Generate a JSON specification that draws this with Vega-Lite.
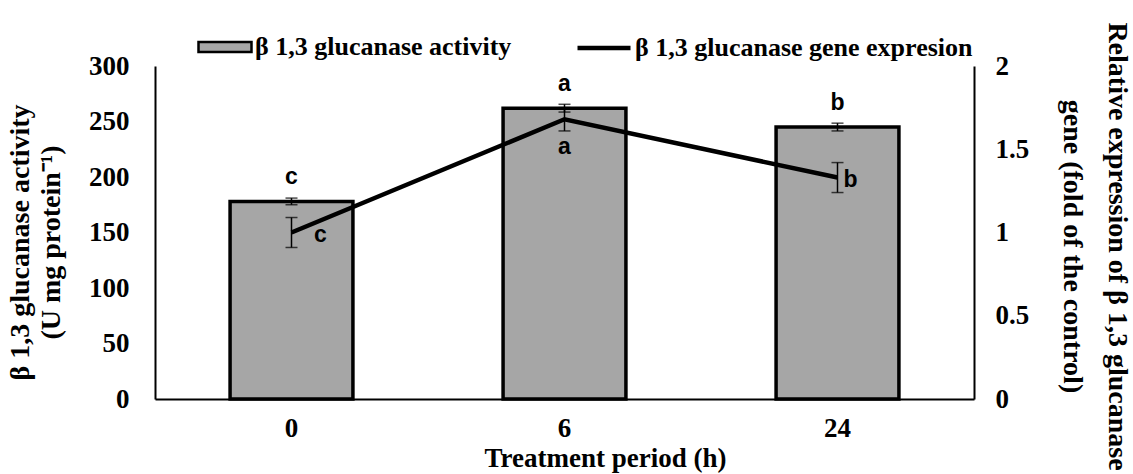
{
  "$schema": "https://vega.github.io/schema/vega-lite/v6.json",
  "width": 819,
  "height": 333,
  "autosize": {"type": "none"},
  "padding": {"left": 155, "top": 66, "right": 159, "bottom": 75},
  "background": "white",
  "config": {
    "view": {"stroke": null},
    "font": "Liberation Serif",
    "axis": {
      "grid": false,
      "ticks": false,
      "domainColor": "black",
      "domainWidth": 2,
      "labelColor": "black",
      "titleColor": "black",
      "labelFont": "Liberation Serif",
      "titleFont": "Liberation Serif",
      "labelFontSize": 27,
      "titleFontSize": 27,
      "labelFontWeight": "bold",
      "titleFontWeight": "bold"
    }
  },
  "data": {
    "values": [
      {"period": "0", "activity": 178, "activityErr": 3, "expression": 1.0, "expressionErr": 0.09, "activityGroup": "c", "expressionGroup": "c"},
      {"period": "6", "activity": 262, "activityErr": 3.5, "expression": 1.68, "expressionErr": 0.07, "activityGroup": "a", "expressionGroup": "a"},
      {"period": "24", "activity": 245, "activityErr": 3.5, "expression": 1.33, "expressionErr": 0.09, "activityGroup": "b", "expressionGroup": "b"}
    ]
  },
  "encoding": {
    "x": {
      "field": "period",
      "type": "ordinal",
      "sort": ["0", "6", "24"],
      "scale": {"paddingInner": 0.55, "paddingOuter": 0.275},
      "axis": {
        "title": "Treatment period (h)",
        "labelAngle": 0,
        "labelPadding": 16,
        "titleX": 450,
        "titleY": 67,
        "titleAlign": "center",
        "titleBaseline": "alphabetic"
      }
    }
  },
  "layer": [
    {
      "encoding": {
        "y": {
          "field": "activity",
          "type": "quantitative",
          "scale": {"domain": [0, 300]},
          "axis": {
            "values": [0, 50, 100, 150, 200, 250, 300],
            "labelPadding": 26,
            "title": ["β 1,3 glucanase activity", "(U mg protein⁻¹)"],
            "titleFontSize": 28,
            "titleAngle": 270,
            "titleX": -135,
            "titleY": 176,
            "titleAlign": "center",
            "titleBaseline": "middle",
            "titleLineHeight": 31
          }
        }
      },
      "layer": [
        {
          "mark": {"type": "bar", "stroke": "black", "strokeWidth": 3.5},
          "encoding": {
            "fill": {
              "datum": "β 1,3 glucanase activity",
              "type": "nominal",
              "scale": {"range": ["#a6a6a6"]},
              "legend": {
                "orient": "none",
                "legendX": 42,
                "legendY": -47,
                "title": null,
                "symbolType": "M-1,-0.19H1V0.19H-1Z",
                "symbolSize": 2809,
                "symbolStrokeColor": "black",
                "symbolStrokeWidth": 2.5,
                "labelFont": "Liberation Serif",
                "labelFontSize": 26,
                "labelFontWeight": "bold",
                "labelColor": "black",
                "labelOffset": 2,
                "labelLimit": 0
              }
            }
          }
        },
        {
          "mark": {"type": "errorbar", "color": "black", "thickness": 1.5, "ticks": {"size": 12}},
          "encoding": {
            "yError": {"field": "activityErr"}
          }
        },
        {
          "mark": {"type": "text", "font": "Liberation Sans", "fontWeight": "bold", "fontSize": 23, "dy": -24, "baseline": "middle", "align": "center", "color": "black"},
          "encoding": {"text": {"field": "activityGroup"}}
        }
      ]
    },
    {
      "encoding": {
        "y": {
          "field": "expression",
          "type": "quantitative",
          "scale": {"domain": [0, 2]},
          "axis": {
            "orient": "right",
            "values": [0, 0.5, 1, 1.5, 2],
            "format": "~g",
            "labelPadding": 21,
            "title": ["Relative expression of β 1,3 glucanase", "gene (fold of the control)"],
            "titleFontSize": 28,
            "titleAngle": 90,
            "titleX": 142,
            "titleY": 180,
            "titleAlign": "center",
            "titleBaseline": "middle",
            "titleLineHeight": 45
          }
        }
      },
      "layer": [
        {
          "mark": {"type": "line", "strokeWidth": 4.5},
          "encoding": {
            "stroke": {
              "datum": "β 1,3 glucanase gene expresion",
              "type": "nominal",
              "scale": {"range": ["black"]},
              "legend": {
                "orient": "none",
                "legendX": 420,
                "legendY": -47,
                "title": null,
                "symbolType": "stroke",
                "symbolSize": 2809,
                "symbolStrokeWidth": 4.5,
                "labelFont": "Liberation Serif",
                "labelFontSize": 26,
                "labelFontWeight": "bold",
                "labelColor": "black",
                "labelOffset": 2,
                "labelLimit": 0
              }
            }
          }
        },
        {
          "mark": {"type": "errorbar", "color": "black", "thickness": 1.5, "ticks": {"size": 12}},
          "encoding": {
            "yError": {"field": "expressionErr"}
          }
        },
        {
          "transform": [{"filter": "datum.period === '0'"}],
          "mark": {"type": "text", "font": "Liberation Sans", "fontWeight": "bold", "fontSize": 23, "dx": 29, "dy": 2, "baseline": "middle", "align": "center", "color": "black"},
          "encoding": {"text": {"field": "expressionGroup"}}
        },
        {
          "transform": [{"filter": "datum.period === '6'"}],
          "mark": {"type": "text", "font": "Liberation Sans", "fontWeight": "bold", "fontSize": 23, "dx": 0, "dy": 28, "baseline": "middle", "align": "center", "color": "black"},
          "encoding": {"text": {"field": "expressionGroup"}}
        },
        {
          "transform": [{"filter": "datum.period === '24'"}],
          "mark": {"type": "text", "font": "Liberation Sans", "fontWeight": "bold", "fontSize": 23, "dx": 13, "dy": 2, "baseline": "middle", "align": "center", "color": "black"},
          "encoding": {"text": {"field": "expressionGroup"}}
        }
      ]
    }
  ],
  "resolve": {"scale": {"y": "independent"}}
}
